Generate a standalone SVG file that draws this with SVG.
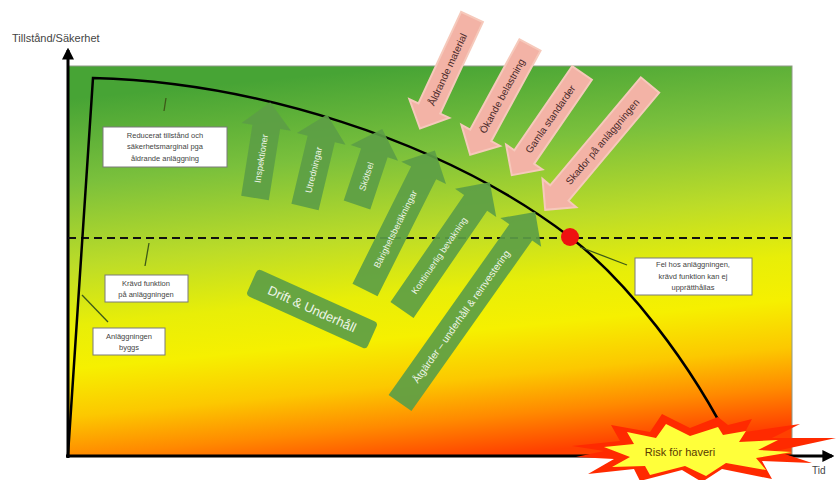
<svg xmlns="http://www.w3.org/2000/svg" width="839" height="480" viewBox="0 0 839 480">
<defs>
<linearGradient id="bg" gradientUnits="userSpaceOnUse" x1="410" y1="66" x2="448" y2="460">
<stop offset="0" stop-color="#47a435"/>
<stop offset="0.21" stop-color="#7ac03c"/>
<stop offset="0.42" stop-color="#bcdc28"/>
<stop offset="0.57" stop-color="#e8ee08"/>
<stop offset="0.68" stop-color="#f6f000"/>
<stop offset="0.8" stop-color="#fcc800"/>
<stop offset="0.9" stop-color="#ff8a00"/>
<stop offset="1" stop-color="#ff4000"/>
</linearGradient>
<marker id="ah" viewBox="0 0 10 10" refX="8" refY="5" markerWidth="4" markerHeight="4" orient="auto">
<path d="M0,0 L10,5 L0,10 Z" fill="#000"/>
</marker>
<style>
.box{fill:#fff;stroke:#7a7a7a;stroke-width:1}
.bt{font-family:"Liberation Sans",Arial,sans-serif;font-size:7.5px;fill:#444;text-anchor:middle}
.lead{stroke:#3d5a18;stroke-width:1.3;fill:none}
.ga{fill:#5c9e45;fill-opacity:0.92}
.gt{font-family:"Liberation Sans",Arial,sans-serif;font-size:9px;fill:#eef5e8;text-anchor:middle;dominant-baseline:central}
.pa{fill:#f3b3a6;stroke:#f6c9bb;stroke-width:2}
.pt{font-family:"Liberation Sans",Arial,sans-serif;font-size:10px;fill:#4a2a2a;text-anchor:middle;dominant-baseline:central}
.ax{font-family:"Liberation Sans",Arial,sans-serif;font-size:11px;fill:#444}
</style>
</defs>
<rect x="68" y="66" width="724" height="390" fill="url(#bg)" stroke="#8f9a88" stroke-width="1"/>

<g id="connectors">
<line x1="68" y1="458" x2="68" y2="50" stroke="#000" stroke-width="3" marker-end="url(#ah)"/>
<line x1="66" y1="456" x2="832" y2="456" stroke="#000" stroke-width="3" marker-end="url(#ah)"/>
<line x1="68" y1="238" x2="792" y2="238" stroke="#111" stroke-width="2" stroke-dasharray="8,5"/>
<path d="M68,455 L93,78 C250,82 440,138 570,237 C625,280 690,360 735,452" fill="none" stroke="#000" stroke-width="2.5"/>
<line class="lead" x1="166" y1="98" x2="164" y2="111"/>
<line class="lead" x1="149" y1="243" x2="145" y2="266"/>
<line class="lead" x1="82" y1="295" x2="108" y2="322"/>
<line class="lead" x1="580" y1="247" x2="627" y2="265"/>
</g>

<g id="point"><circle cx="570" cy="237" r="9" fill="#ee1111"/></g>

<g id="inspektioner" transform="translate(255,198) rotate(9)">
<path class="ga" d="M-14,0 L-14,-72 L-25,-72 L0,-97 L25,-72 L14,-72 L14,0 Z"/>
<text class="gt" transform="translate(0,-40) rotate(-90)">Inspektioner</text>
</g>
<g id="utredningar" transform="translate(305,207) rotate(13.4)">
<path class="ga" d="M-14,0 L-14,-70 L-25,-70 L0,-95 L25,-70 L14,-70 L14,0 Z"/>
<text class="gt" transform="translate(0,-38) rotate(-90)">Utredningar</text>
</g>
<g id="skotsel" transform="translate(357,205) rotate(18.4)">
<path class="ga" d="M-14,0 L-14,-55 L-25,-55 L0,-80 L25,-55 L14,-55 L14,0 Z"/>
<text class="gt" transform="translate(0,-30) rotate(-90)">Skötsel</text>
</g>
<g id="barighet" transform="translate(365,290) rotate(26.6)">
<path class="ga" d="M-14,0 L-14,-131 L-25,-131 L0,-156 L25,-131 L14,-131 L14,0 Z"/>
<text class="gt" transform="translate(0,-68) rotate(-90)">Bärighetsberäkningar</text>
</g>
<g id="bevakning" transform="translate(402,310) rotate(34.5)">
<path class="ga" d="M-14,0 L-14,-130 L-25,-130 L0,-155 L25,-130 L14,-130 L14,0 Z"/>
<text class="gt" transform="translate(0,-66) rotate(-90)">Kontinuerlig bevakning</text>
</g>
<g id="atgarder" transform="translate(400,403) rotate(35.3)">
<path class="ga" d="M-14,0 L-14,-209 L-25,-209 L0,-234 L25,-209 L14,-209 L14,0 Z"/>
<text class="gt" style="font-size:10px" transform="translate(0,-106) rotate(-90)">Åtgärder – underhåll &amp; reinvestering</text>
</g>

<g id="drift" transform="translate(312,309) rotate(24.2)">
<rect x="-66" y="-14.5" width="132" height="29" rx="4" class="ga"/>
<text class="gt" style="font-size:13px">Drift &amp; Underhåll</text>
</g>

<g id="aldrande" transform="translate(472,17) rotate(25)">
<path class="pa" d="M-12,0 L-12,101 L-22,101 L0,123 L22,101 L12,101 L12,0 Z"/>
<text class="pt" transform="translate(0,58) rotate(-90)">Åldrande material</text>
</g>
<g id="okande" transform="translate(530,45) rotate(28.6)">
<path class="pa" d="M-12,0 L-12,103 L-22,103 L0,125 L22,103 L12,103 L12,0 Z"/>
<text class="pt" transform="translate(0,58) rotate(-90)">Ökande belastning</text>
</g>
<g id="gamla" transform="translate(582,73) rotate(34.5)">
<path class="pa" d="M-12,0 L-12,102 L-22,102 L0,124 L22,102 L12,102 L12,0 Z"/>
<text class="pt" transform="translate(0,56) rotate(-90)">Gamla standarder</text>
</g>
<g id="skador" transform="translate(650,85) rotate(40)">
<path class="pa" d="M-12,0 L-12,141 L-22,141 L0,163 L22,141 L12,141 L12,0 Z"/>
<text class="pt" transform="translate(0,74) rotate(-90)">Skador på anläggningen</text>
</g>

<g id="box-reducerat">
<rect class="box" x="103" y="127" width="124" height="40"/>
<text class="bt" x="165" y="138">Reducerat tillstånd och</text>
<text class="bt" x="165" y="149">säkerhetsmarginal pga</text>
<text class="bt" x="165" y="161">åldrande anläggning</text>
</g>
<g id="box-kravd">
<rect class="box" x="105" y="275" width="83" height="27"/>
<text class="bt" x="146" y="286">Krävd funktion</text>
<text class="bt" x="146" y="297">på anläggningen</text>
</g>
<g id="box-byggs">
<rect class="box" x="93" y="328" width="72" height="27"/>
<text class="bt" x="129" y="339">Anläggningen</text>
<text class="bt" x="129" y="350">byggs</text>
</g>
<g id="box-fel">
<rect class="box" x="635" y="258" width="117" height="37"/>
<text class="bt" x="693" y="267">Fel hos anläggningen,</text>
<text class="bt" x="693" y="279">krävd funktion kan ej</text>
<text class="bt" x="693" y="290">upprätthållas</text>
</g>

<g id="haveri">
<polygon fill="#ff2a00" points="572,446 620,441 611,425 650,432 662,414 690,428 718,417 728,425 752,419 745,432 800,424 772,438 836,438 776,451 812,463 762,461 772,479 722,469 702,482 682,470 640,481 634,469 588,474 614,459 576,457 604,451"/>
<polygon fill="#ffff3a" points="604,447 634,444 627,432 656,438 666,424 690,436 718,427 723,435 746,431 739,442 778,440 758,450 792,452 756,458 766,470 726,463 706,476 685,466 650,475 645,466 612,467 630,457"/>
<text x="680" y="456" font-family="Liberation Sans,Arial,sans-serif" font-size="11" fill="#5a3a00" text-anchor="middle">Risk för haveri</text>
</g>

<text class="ax" x="12" y="42">Tillstånd/Säkerhet</text>
<text class="ax" x="812" y="474" style="font-size:10px">Tid</text>
</svg>
